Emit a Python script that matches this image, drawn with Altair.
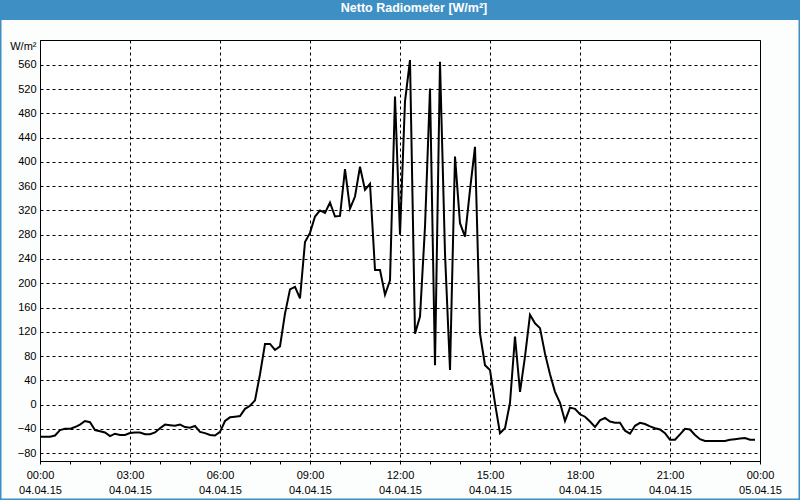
import altair as alt
import pandas as pd

# ---- data (10-minute samples, 04.04.15 00:00 .. 23:50 UTC) ----
START = "2015-04-04T00:00:00Z"
STEP_MIN = 10
VALUES = [
    -53, -53, -53, -51, -42, -40, -40, -37, -33, -27,
    -29, -42, -44, -46, -52, -48, -50, -50, -47, -46,
    -46, -49, -49, -46, -39, -33, -34, -35, -33, -37,
    -38, -35, -45, -47, -50, -51, -45, -27, -21, -20,
    -19, -7, -2, 7, 50, 100, 100, 90, 96, 150,
    190, 194, 175, 268, 283, 310, 320, 316, 333, 310,
    311, 388, 323, 343, 392, 354, 364, 222, 222, 181,
    205, 508, 280, 500, 568, 117, 145, 293, 521, 65,
    565, 249, 57, 409, 299, 277, 354, 425, 117, 65,
    57, 2, -47, -39, 3, 112, 21, 79, 148, 134,
    126, 84, 50, 21, 3, -27, -5, -7, -16, -20,
    -28, -37, -26, -22, -28, -30, -30, -43, -48, -35,
    -30, -32, -36, -39, -41, -47, -58, -58, -49, -40,
    -41, -50, -57, -60, -60, -60, -60, -60, -58, -57,
    -56, -55, -58, -58,
]
Y_TICKS = list(range(-80, 561, 40))
Y_DOMAIN = [-93, 601]
TITLE = "Netto Radiometer [W/m²]"
Y_TITLE = "W/m²"

t0 = pd.Timestamp(START)
times = [(t0 + pd.Timedelta(minutes=STEP_MIN * i)).strftime("%Y-%m-%dT%H:%M:%SZ")
         for i in range(len(VALUES))]
df = pd.DataFrame({"t": times, "v": VALUES})

ms0 = int(t0.value // 10**6)
HOUR_MS = 3600 * 1000
x_ticks = [ms0 + h * HOUR_MS for h in range(25)]

BLUE = "#3d8fc4"
FONT = "Liberation Sans"

x_axis = alt.Axis(
    values=x_ticks,
    labelExpr="utchours(datum.value) % 3 == 0 ? [utcFormat(datum.value, '%H:%M'), utcFormat(datum.value, '%d.%m.%y')] : ''",
    title=None,
    grid=True,
    gridColor="black",
    gridDash=[3, 3],
    gridWidth=1,
    gridOpacity={"condition": {"test": "utchours(datum.value) % 3 == 0", "value": 1}, "value": 0},
    ticks=True,
    tickSize=3,
    tickColor="black",
    domainColor="black",
    labelFont=FONT,
    labelFontSize=11,
    labelColor="black",
    labelLineHeight=15.5,
    labelBaseline="top",
    labelPadding=5,
    labelFlush=False,
    labelOverlap=False,
)

y_axis = alt.Axis(
    values=Y_TICKS,
    title=Y_TITLE,
    titleAngle=0,
    titleAlign="right",
    titleBaseline="middle",
    titleX=-4,
    titleY=6,
    titleFont=FONT,
    titleFontSize=11,
    titleFontWeight="normal",
    titleColor="black",
    grid=True,
    gridColor="black",
    gridDash=[3, 3],
    gridWidth=1,
    gridOpacity=1,
    ticks=False,
    tickSize=0,
    domainColor="black",
    labelFont=FONT,
    labelFontSize=11,
    labelColor="black",
    labelPadding=4,
    labelBaseline="middle",
)

one = alt.Data(values=[{"a": 1}])

title_bar = alt.Chart(one).mark_rect(fill=BLUE).encode(
    x=alt.value(-40), x2=alt.value(760), y=alt.value(-40), y2=alt.value(-20)
)
frame = alt.Chart(one).mark_rect(filled=False, stroke=BLUE, strokeWidth=3).encode(
    x=alt.value(-40), x2=alt.value(760), y=alt.value(-40), y2=alt.value(460)
)

line = alt.Chart(df).mark_line(color="black", strokeWidth=2).encode(
    x=alt.X("t:T", scale=alt.Scale(type="utc", domain=[ms0, ms0 + 24 * HOUR_MS], nice=False), axis=x_axis),
    y=alt.Y("v:Q", scale=alt.Scale(domain=Y_DOMAIN, nice=False, zero=False), axis=y_axis),
)

chart = alt.layer(title_bar, frame, line).properties(
    width=720,
    height=421,
    autosize=alt.AutoSizeParams(type="none"),
    padding={"left": 40, "top": 40, "right": 40, "bottom": 39},
    background="#fcfdfd",
    title=alt.TitleParams(
        text=TITLE,
        color="white",
        font=FONT,
        fontSize=12.5,
        fontWeight="bold",
        anchor="middle",
        frame="group",
        baseline="middle",
        offset=-22,
        dx=14,
        zindex=1,
    ),
).configure_view(stroke="black", strokeWidth=1, fill="white")

chart.save("out.html", embed_options={"renderer": "svg", "actions": False})
